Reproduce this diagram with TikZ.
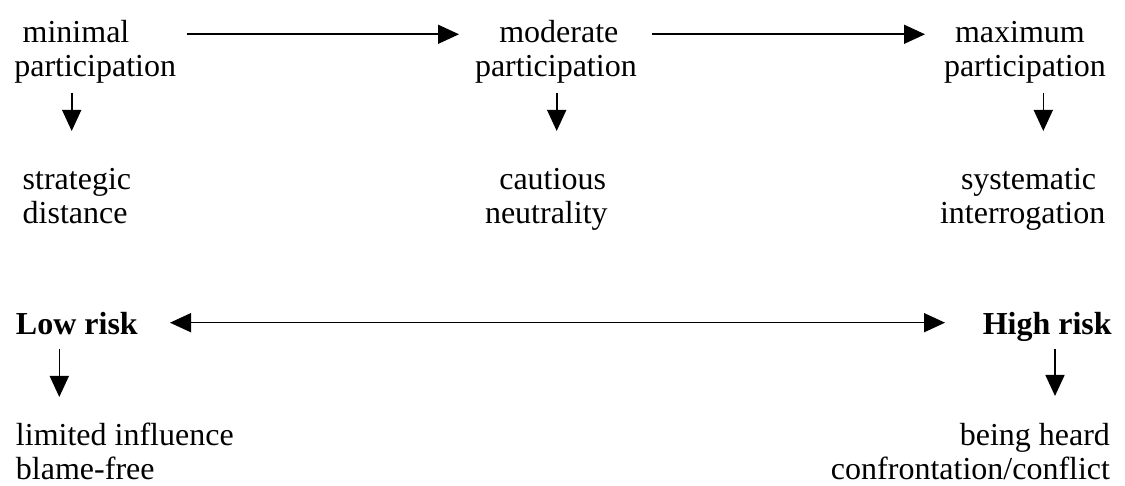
\documentclass[tikz,border=0pt]{standalone}
\usepackage{fontspec}
\setmainfont{Liberation Serif}
\usetikzlibrary{arrows.meta}
\begin{document}
\begin{tikzpicture}[x=1pt,y=1pt,
  lbl/.style={inner sep=0pt,outer sep=0pt,font=\fontsize{32}{34}\selectfont},
  lblL/.style={lbl,align=left,anchor=base west},
  lblR/.style={lbl,align=right,anchor=base east},
  arr/.style={line width=1.6pt,-{Triangle[length=21pt,width=19pt]}},
  darr/.style={line width=1.6pt,{Triangle[length=21pt,width=19pt]}-{Triangle[length=21pt,width=19pt]}}]
\useasboundingbox (0,0) rectangle (1125,486);

% participation levels (base anchor = baseline of the last line)
\node[lblL] (minA) at (14.3,409) {\hspace*{8.4pt}minimal\\participation};
\node[lblL] (modA) at (475,409) {\hspace*{24.3pt}moderate\\participation};
\node[lblL] (maxA) at (944,409) {\hspace*{11pt}maximum\\participation};

% resulting stances
\node[lblL] (minB) at (22.7,262) {strategic\\distance};
\node[lblL] (modB) at (485,262) {\hspace*{14.3pt}cautious\\neutrality};
\node[lblL] (maxB) at (940,262) {\hspace*{21pt}systematic\\interrogation};

% risk scale
\node[lblL,font=\fontsize{32}{34}\selectfont\bfseries] (low) at (16,151) {Low risk};
\node[lblR,font=\fontsize{32}{34}\selectfont\bfseries] (high) at (1111.7,151) {High risk};
\node[lblL] (lowC) at (16,6) {limited influence\\blame-free};
\node[lblR] (highC) at (1110,6) {being heard\\confrontation/conflict};

% arrow end points
\coordinate (a1s) at (187,451.7);
\coordinate (a1e) at (459,451.7);
\coordinate (a2s) at (652.3,451.7);
\coordinate (a2e) at (925,451.7);
\coordinate (v1s) at (71.7,393);
\coordinate (v1e) at (71.7,355);
\coordinate (v2s) at (556.7,393);
\coordinate (v2e) at (556.7,355);
\coordinate (v3s) at (1043.3,393);
\coordinate (v3e) at (1043.3,355);
\coordinate (rl) at (170,163.3);
\coordinate (rr) at (945,163.3);
\coordinate (v4s) at (59.3,137);
\coordinate (v4e) at (59.3,89);
\coordinate (v5s) at (1055,137);
\coordinate (v5e) at (1055,90);

\draw[arr] (a1s) -- (a1e);
\draw[arr] (a2s) -- (a2e);
\draw[arr] (v1s) -- (v1e);
\draw[arr] (v2s) -- (v2e);
\draw[arr] (v3s) -- (v3e);
\draw[darr] (rl) -- (rr);
\draw[arr] (v4s) -- (v4e);
\draw[arr] (v5s) -- (v5e);
\end{tikzpicture}
\end{document}
